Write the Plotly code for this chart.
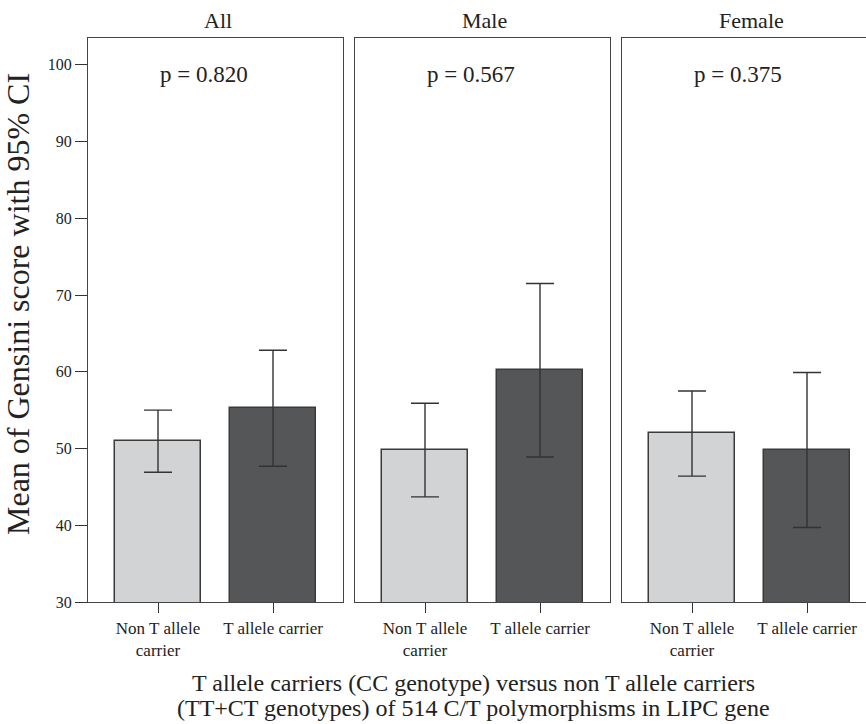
import plotly.graph_objects as go

# ---- data ----
groups = ["All", "Male", "Female"]
categories = ["Non T allele<br>carrier", "T allele carrier"]
mean_non_t = [51.0, 49.8, 52.0]
ci_low_non_t = [46.9, 43.7, 46.4]
ci_high_non_t = [55.0, 55.9, 57.5]
mean_t = [55.3, 60.2, 49.8]
ci_low_t = [47.7, 48.9, 39.7]
ci_high_t = [62.8, 71.5, 59.9]
p_values = ["p = 0.820", "p = 0.567", "p = 0.375"]
y_ticks = [30, 40, 50, 60, 70, 80, 90, 100]
x_title_lines = ["T allele carriers (CC genotype) versus non T allele carriers",
                 "(TT+CT genotypes) of 514 C/T polymorphisms in LIPC gene"]
y_title = "Mean of Gensini score with 95% CI"

# ---- layout geometry (pixels) ----
W, H = 866, 724
L, T, B = 88, 38, 122
plot_w = W - L
plot_h = H - T - B
panels_px = [(88, 343), (355, 610), (622, 866)]
unit_px = 115.0          # pixels per category step
left_off = 70.0          # px from panel left edge to first category centre
FONT = "Liberation Serif"
LIGHT = "#d2d3d5"
DARK = "#555658"
EDGE = "#3a3a3a"
TXT = "#222"

def px_x(px):
    return (px - L) / plot_w

def px_y(py):
    return (H - B - py) / plot_h

fig = go.Figure()
layout = dict(
    width=W, height=H,
    margin=dict(l=L, r=0, t=T, b=B),
    paper_bgcolor="white", plot_bgcolor="white",
    showlegend=False,
    font=dict(family=FONT, color=TXT, size=15),
    bargap=0,
)
annotations = []
for i, g in enumerate(groups):
    xa = "x" if i == 0 else f"x{i+1}"
    ya = "y" if i == 0 else f"y{i+1}"
    x0, x1 = panels_px[i]
    for j, (m, lo, hi, col) in enumerate([
        (mean_non_t[i], ci_low_non_t[i], ci_high_non_t[i], LIGHT),
        (mean_t[i], ci_low_t[i], ci_high_t[i], DARK),
    ]):
        fig.add_trace(go.Bar(
            x=[j], y=[m], xaxis=xa, yaxis=ya, width=0.753,
            marker=dict(color=col, line=dict(color=EDGE, width=1.5)),
            error_y=dict(type="data", symmetric=False, array=[hi - m],
                         arrayminus=[m - lo], color="#333", thickness=1.4, width=14),
            hoverinfo="skip",
        ))
    r0 = -left_off / unit_px
    r1 = r0 + (x1 - x0) / unit_px
    is_last = i == len(groups) - 1
    layout["xaxis" if i == 0 else f"xaxis{i+1}"] = dict(
        domain=[px_x(x0), min(1.0, px_x(x1))],
        anchor=ya, range=[r0, r1],
        tickvals=[0, 1], ticktext=categories,
        ticks="outside", ticklen=10, tickcolor="#333", tickwidth=1.3,
        showline=True, linecolor="#444", linewidth=1.3, mirror=True,
        showgrid=False, zeroline=False, fixedrange=True,
        tickfont=dict(family=FONT, size=17, color=TXT),
    )
    layout["yaxis" if i == 0 else f"yaxis{i+1}"] = dict(
        domain=[0, 1], anchor=xa, range=[30, 103.5],
        tickvals=y_ticks, showticklabels=(i == 0),
        ticks="outside" if i == 0 else "", ticklen=12, tickcolor="#333", tickwidth=1.3,
        showline=True, linecolor="#444", linewidth=1.3, mirror=not is_last,
        showgrid=False, zeroline=False, fixedrange=True,
        tickfont=dict(family=FONT, size=16, color=TXT),
    )
    cx = (x0 + (x0 + 255)) / 2.0
    annotations.append(dict(text=g, x=px_x(cx + 2), y=px_y(20), xref="paper", yref="paper",
                            showarrow=False, xanchor="center", yanchor="middle",
                            font=dict(family=FONT, size=22, color=TXT)))
    annotations.append(dict(text=p_values[i], x=px_x(cx - 12), y=px_y(75), xref="paper", yref="paper",
                            showarrow=False, xanchor="center", yanchor="middle",
                            font=dict(family=FONT, size=23, color=TXT)))

annotations.append(dict(
    text=y_title, textangle=-90,
    x=px_x(18), y=px_y(304), xref="paper", yref="paper", showarrow=False,
    xanchor="center", yanchor="middle", font=dict(family=FONT, size=32, color=TXT)))
for k, (line, py) in enumerate(zip(x_title_lines, [683, 708])):
    annotations.append(dict(
        text=line, x=px_x(473), y=px_y(py), xref="paper", yref="paper", showarrow=False,
        xanchor="center", yanchor="middle", font=dict(family=FONT, size=24, color=TXT)))
layout["annotations"] = annotations
fig.update_layout(**layout)
fig.write_html("out.html", config={"displayModeBar": False},
               post_script="document.body.style.margin='0';document.body.style.overflow='hidden';")
